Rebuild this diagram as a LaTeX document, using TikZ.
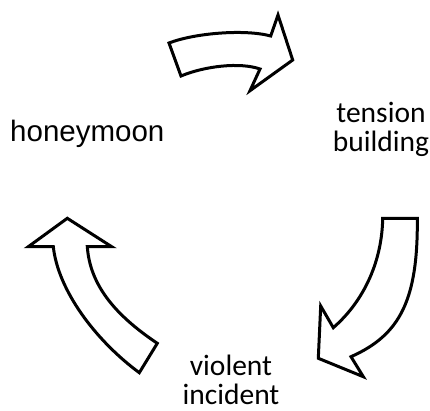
\documentclass[tikz,border=0pt]{standalone}
\usepackage{fontspec}
\newfontfamily\arialish{Liberation Sans}
\newfontfamily\calibriish{Carlito}
\begin{document}
\begin{tikzpicture}[x=1pt,y=-1pt,
  blockarrow/.style={draw=black,line width=3pt,fill=white,line join=miter},
  lbla/.style={inner sep=0pt,anchor=base,font=\arialish\fontsize{29.5}{29}\selectfont},
  lblc/.style={inner sep=0pt,anchor=base,align=center,font=\calibriish\fontsize{29.5}{28.7}\selectfont}]
\useasboundingbox (0,0) rectangle (430,411);
% top arrow (honeymoon -> tension building)
\draw[blockarrow] (169,43) .. controls (195,33) and (245,29) .. (270.7,36)
  -- (278,15) -- (292.7,60) -- (250,90.7) -- (260,69)
  .. controls (240,62) and (205,66) .. (181,76) -- cycle;
% right arrow (tension building -> violent incident)
\draw[blockarrow] (382.7,218.3) -- (417.3,218.3)
  .. controls (418,300) and (400,335) .. (351,356.7)
  -- (363.3,376.7) -- (318.3,358.3) -- (320.7,306) -- (333.3,327.7)
  .. controls (365,300) and (382,260) .. (382.7,218.3) -- cycle;
% left arrow (violent incident -> honeymoon)
\draw[blockarrow] (67.3,218.3) -- (111.7,246.7) -- (87.3,246.7)
  .. controls (90,285) and (115,315) .. (157.3,343.3)
  -- (139.3,372.7)
  .. controls (95,340) and (58,290) .. (53.3,246.7)
  -- (28.3,246.7) -- cycle;
\node[lbla] (honeymoon) at (87.3,141.7) {honeymoon};
\node[lblc] (tension) at (381,151.7) {tension\\building};
\node[lblc] (violent) at (231,404.5) {violent\\incident};
\end{tikzpicture}
\end{document}
